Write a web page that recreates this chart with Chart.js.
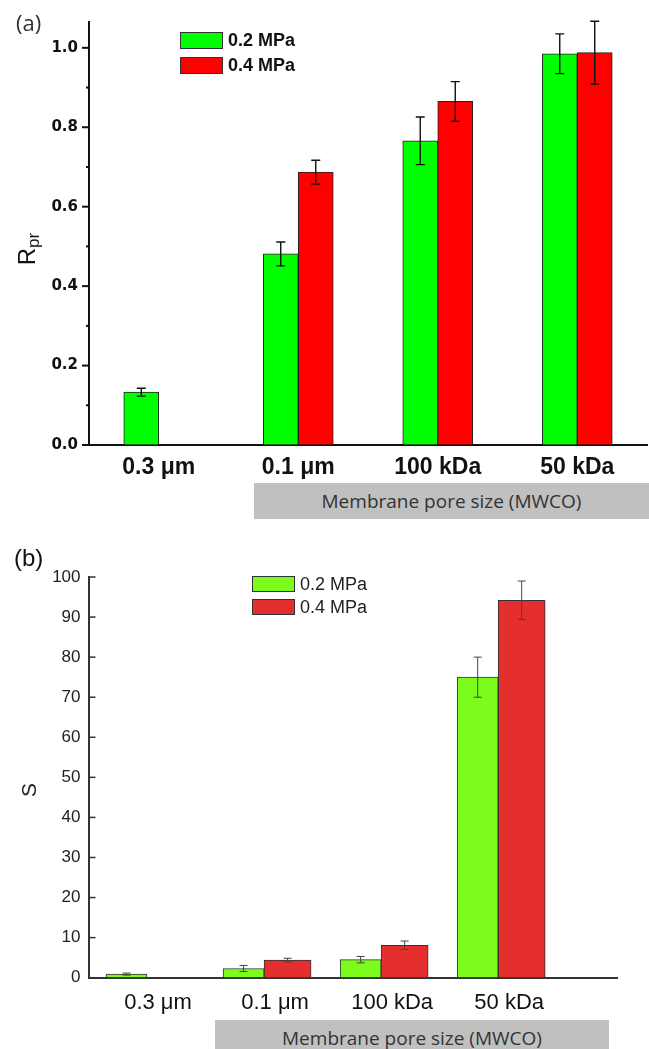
<!DOCTYPE html>
<html><head><meta charset="utf-8">
<script src="https://cdn.jsdelivr.net/npm/chart.js@4.4.1/dist/chart.umd.min.js"></script>
<style>
html,body{margin:0;padding:0;background:#fff;}
body{width:649px;height:1049px;position:relative;overflow:hidden;}
#ca{position:absolute;left:0;top:0;}
#cb{position:absolute;left:0;top:520px;}
.panel{position:absolute;font-family:"Open Sans",sans-serif;color:#333;}
.box{position:absolute;background:#c0c0c0;font-family:"Open Sans",sans-serif;font-size:19px;color:#333;text-align:center;white-space:nowrap;overflow:hidden;}
</style></head><body>
<canvas id="ca" width="649" height="480"></canvas>
<canvas id="cb" width="649" height="529"></canvas>
<div class="panel" style="left:16px;top:7px;font-size:22px;">(a)</div>
<div class="panel" style="left:14px;top:544px;font-size:24px;font-family:'Liberation Sans',sans-serif;color:#111;">(b)</div>
<div class="box" style="left:254px;top:483px;width:395px;height:36px;line-height:36px;">Membrane pore size (MWCO)</div>
<div class="box" style="left:215px;top:1020px;width:394px;height:29px;line-height:36px;">Membrane pore size (MWCO)</div>
<script>
// ---------- data ----------
const categories = ['0.3 μm', '0.1 μm', '100 kDa', '50 kDa'];
const seriesNames = ['0.2 MPa', '0.4 MPa'];
const rprLow     = [0.133, 0.481, 0.766, 0.985];
const rprLowErr  = [0.010, 0.030, 0.060, 0.050];
const rprHigh    = [null, 0.687, 0.865, 0.988];
const rprHighErr = [null, 0.030, 0.050, 0.079];
const sLow       = [0.9, 2.3, 4.5, 75.0];
const sLowErr    = [0.25, 0.75, 0.8, 5.0];
const sHigh      = [null, 4.4, 8.1, 94.2];
const sHighErr   = [null, 0.45, 1.05, 4.8];
const rprTicks      = [0, 0.2, 0.4, 0.6, 0.8, 1.0];
const rprMinorTicks = [0.1, 0.3, 0.5, 0.7, 0.9];
const sTicks        = [0, 10, 20, 30, 40, 50, 60, 70, 80, 90, 100];

// ---------- plugins ----------
const errorBars = {
  id: 'errorBars',
  afterDatasetsDraw(chart, args, o) {
    const ctx = chart.ctx, ys = chart.scales.y;
    ctx.save();
    ctx.strokeStyle = o.color; ctx.lineWidth = o.width;
    chart.data.datasets.forEach((ds, i) => {
      const meta = chart.getDatasetMeta(i);
      meta.data.forEach((el, j) => {
        const raw = ds.data[j];
        const v = (raw !== null && typeof raw === 'object') ? raw.y : raw;
        const e = ds.errors[j];
        if (v === null || v === undefined || e === null) return;
        const x = el.x;
        const yt = ys.getPixelForValue(v + e), yb = ys.getPixelForValue(v - e);
        ctx.beginPath();
        ctx.moveTo(x, yt); ctx.lineTo(x, yb);
        ctx.moveTo(x - o.cap, yt); ctx.lineTo(x + o.cap, yt);
        ctx.moveTo(x - o.cap, yb); ctx.lineTo(x + o.cap, yb);
        ctx.stroke();
      });
    });
    ctx.restore();
  }
};

const tickMarks = {
  id: 'tickMarks',
  afterDraw(chart, args, o) {
    const ctx = chart.ctx, s = chart.scales.y, x0 = chart.chartArea.left;
    ctx.save();
    ctx.strokeStyle = o.color; ctx.lineWidth = o.width;
    const draw = (vals, len) => vals.forEach(v => {
      const y = s.getPixelForValue(v);
      ctx.beginPath(); ctx.moveTo(x0, y); ctx.lineTo(x0 + o.dir * len, y); ctx.stroke();
    });
    draw(o.major, o.majorLen);
    if (o.minor) draw(o.minor, o.minorLen);
    ctx.restore();
  }
};

const boxLegend = {
  id: 'boxLegend',
  afterDraw(chart, args, o) {
    const ctx = chart.ctx;
    ctx.save();
    chart.data.datasets.forEach((ds, i) => {
      const y = o.y + i * o.step;
      ctx.fillStyle = ds.backgroundColor;
      ctx.fillRect(o.x, y, o.w, o.h);
      ctx.strokeStyle = o.border; ctx.lineWidth = 1;
      ctx.strokeRect(o.x + 0.5, y + 0.5, o.w - 1, o.h - 1);
      ctx.fillStyle = o.color; ctx.font = o.font;
      ctx.textBaseline = 'middle'; ctx.textAlign = 'left';
      ctx.fillText(ds.label, o.x + o.w + o.gap, y + o.h / 2 + 1);
    });
    ctx.restore();
  }
};

const yTitle = {
  id: 'yTitle',
  afterDraw(chart, args, o) {
    const ctx = chart.ctx;
    ctx.save();
    ctx.translate(o.x, o.y); ctx.rotate(-Math.PI / 2);
    ctx.fillStyle = o.color; ctx.textBaseline = 'middle'; ctx.textAlign = 'left';
    ctx.font = o.font;
    const w1 = ctx.measureText(o.text).width;
    let w2 = 0;
    if (o.sub) { ctx.font = o.subFont; w2 = ctx.measureText(o.sub).width; }
    const start = -(w1 + w2) / 2;
    ctx.font = o.font; ctx.fillText(o.text, start, 0);
    if (o.sub) { ctx.font = o.subFont; ctx.fillText(o.sub, start + w1, o.subShift); }
    ctx.restore();
  }
};

// ---------- chart (a) ----------
new Chart(document.getElementById('ca'), {
  type: 'bar',
  data: {
    labels: categories,
    datasets: [
      { label: seriesNames[0], data: rprLow, errors: rprLowErr, backgroundColor: '#00ff00', borderColor: '#222', borderWidth: 1, barThickness: 35 },
      { label: seriesNames[1], data: rprHigh, errors: rprHighErr, backgroundColor: '#ff0000', borderColor: '#222', borderWidth: 1, barThickness: 35 }
    ]
  },
  options: {
    responsive: false, animation: false,
    layout: { padding: { left: 0, right: 2, top: 22, bottom: 0 } },
    plugins: {
      legend: { display: false }, tooltip: { enabled: false },
      errorBars: { color: '#111', width: 1.4, cap: 4.5 },
      tickMarks: { color: '#111', width: 2, dir: -1, major: rprTicks, majorLen: 7, minor: rprMinorTicks, minorLen: 3 },
      boxLegend: { x: 180, y: 32, step: 25, w: 43, h: 17, gap: 5, border: '#333', color: '#111', font: 'bold 18px "Liberation Sans"' },
      yTitle: { x: 28, y: 249, color: '#111', font: '24px "Liberation Sans"', text: 'R', sub: 'pr', subFont: '17px "Liberation Sans"', subShift: 6 }
    },
    scales: {
      x: {
        grid: { display: true, drawOnChartArea: false, drawTicks: false },
        border: { color: '#111', width: 2 },
        ticks: { font: { family: 'Liberation Sans', weight: 'bold', size: 23 }, color: '#111', padding: 9 },
        afterFit(s) { s.height = 35; }
      },
      y: {
        min: 0, max: 1.065,
        afterBuildTicks(s) { s.ticks = rprTicks.map(v => ({ value: v })); },
        grid: { display: true, drawOnChartArea: false, drawTicks: false },
        border: { color: '#111', width: 2 },
        ticks: { font: { family: 'DejaVu Sans', weight: 'bold', size: 15 }, color: '#111', padding: 11, callback: v => Number(v).toFixed(1) },
        afterFit(s) { s.width = 89; }
      }
    }
  },
  plugins: [errorBars, tickMarks, boxLegend, yTitle]
});

// ---------- chart (b) ----------
new Chart(document.getElementById('cb'), {
  type: 'bar',
  data: {
    datasets: [
      { label: seriesNames[0], data: sLow.map((v, i) => ({ x: i, y: v })), errors: sLowErr, backgroundColor: '#7cfc1c', borderColor: '#333', borderWidth: 1, barThickness: 41 },
      { label: seriesNames[1], data: sHigh.map((v, i) => ({ x: i, y: v })), errors: sHighErr, backgroundColor: '#e52e2e', borderColor: '#333', borderWidth: 1, barThickness: 47 }
    ]
  },
  options: {
    responsive: false, animation: false,
    layout: { padding: { left: 0, right: 32, top: 57, bottom: 0 } },
    plugins: {
      legend: { display: false }, tooltip: { enabled: false },
      errorBars: { color: '#444', width: 1, cap: 4 },
      tickMarks: { color: '#333', width: 1.5, dir: 1, major: sTicks, majorLen: 7 },
      boxLegend: { x: 252, y: 56, step: 23, w: 43, h: 16, gap: 5, border: '#333', color: '#222', font: '18px "Liberation Sans"' },
      yTitle: { x: 30, y: 270, color: '#222', font: '21px "Liberation Sans"', text: 'S', sub: '', subFont: '', subShift: 0 }
    },
    scales: {
      x: {
        type: 'linear', min: -0.5, max: 4.015, offset: false,
        afterBuildTicks(s) { s.ticks = categories.map((c, i) => ({ value: i })); },
        grid: { display: true, drawOnChartArea: false, drawTicks: false, offset: false },
        border: { color: '#333', width: 2 },
        ticks: { font: { family: 'Liberation Sans', size: 22 }, color: '#111', padding: 12, labelOffset: 11, callback: v => categories[v] },
        afterFit(s) { s.height = 71.3; }
      },
      y: {
        min: 0, max: 100,
        afterBuildTicks(s) { s.ticks = sTicks.map(v => ({ value: v })); },
        grid: { display: true, drawOnChartArea: false, drawTicks: false },
        border: { color: '#333', width: 2 },
        ticks: { font: { family: 'Liberation Sans', size: 17 }, color: '#222', padding: 8 },
        afterFit(s) { s.width = 88.5; }
      }
    }
  },
  plugins: [errorBars, tickMarks, boxLegend, yTitle]
});
</script>
</body></html>
